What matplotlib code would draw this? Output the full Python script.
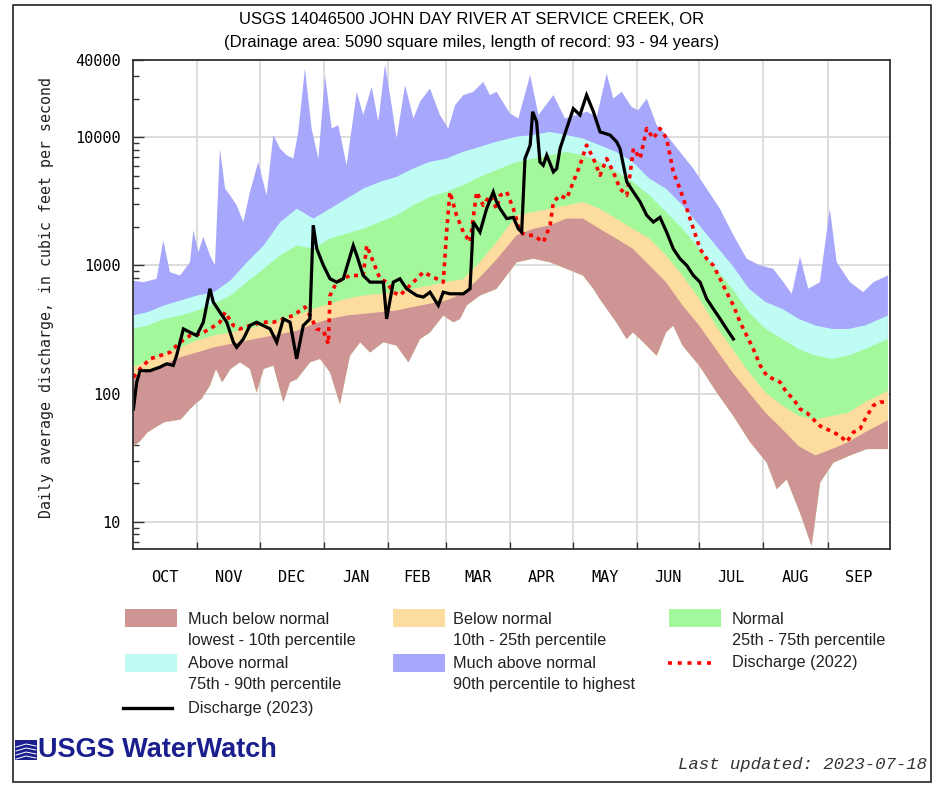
import numpy as np
import matplotlib
matplotlib.use("Agg")
import matplotlib.pyplot as plt
from matplotlib.patches import Rectangle
from matplotlib.lines import Line2D
from matplotlib.ticker import FixedLocator, NullFormatter, FixedFormatter

# ---------------------------------------------------------------- data
month_labels = ["OCT", "NOV", "DEC", "JAN", "FEB", "MAR",
                "APR", "MAY", "JUN", "JUL", "AUG", "SEP"]
month_lengths = [31, 30, 31, 31, 28, 31, 30, 31, 30, 31, 31, 30]

# day of water year (0 = Oct 1) for the percentile boundaries
band_days = [0, 7, 15, 23, 31, 39, 47, 55, 63, 71, 79, 87, 95, 103, 111, 119,
             127, 135, 143, 151, 159, 167, 175, 185, 193, 201, 209, 217, 225,
             233, 241, 249, 257, 265, 273, 281, 289, 297, 305, 313, 321, 329,
             337, 345, 353, 364]
p10 = [130, 152, 171, 193, 210, 230, 244, 260, 275, 291, 310, 350, 383, 407,
       419, 432, 445, 474, 503, 534, 600, 800, 1100,
       1720, 1930, 2060, 2320, 2320, 1930, 1620, 1350, 1000, 741, 488, 340,
       223, 147, 102, 71, 53, 39, 33, 37, 42, 50, 62]
p25 = [161, 181, 204, 230, 260, 284, 301, 320, 340, 371, 407, 459, 503, 550,
       583, 601, 619, 658, 698, 741, 780, 1050, 1500,
       2460, 2610, 2770, 2940, 3130, 2770, 2320, 1930, 1620, 1200, 835, 550,
       340, 223, 147, 102, 81, 67, 63, 67, 71, 86, 105]
p75 = [320, 340, 383, 407, 445, 503, 583, 741, 942, 1200, 1430, 1350, 1620,
       1770, 1930, 2180, 2460, 2940, 3420, 3740, 4220, 4900, 5520,
       6410, 6810, 7230, 7680, 7230, 6410, 5360, 4480, 3520, 2610, 1930, 1350,
       942, 658, 432, 320, 267, 223, 198, 187, 198, 223, 267]
p90 = [407, 432, 488, 534, 583, 619, 764, 1060, 1430, 2180, 2770, 2320, 2770,
       3320, 3970, 4480, 4900, 5690, 6410, 6810, 7680, 8400, 9200,
       10100, 10400, 11000, 10400, 9770, 8670, 7680, 6410, 4750, 3970, 2940,
       2060, 1430, 1000, 658, 518, 459, 383, 340, 320, 320, 340, 407]

# lowest daily value on record
min_days = [0, 3, 7, 15, 23, 27.5, 31, 33, 37, 40, 43, 47, 51.6, 56.4, 59.6,
            63, 67.7, 72.5, 75.7, 79, 85.4, 90.2, 95, 99.8, 104.6, 109.5,
            114.3, 120.7, 127.1, 132.8, 138.4, 143.2, 149.6, 154.5, 157.7,
            160.9, 167.3, 175.3, 185, 193, 201, 209, 217, 222, 225, 233, 238,
            241, 244.5, 252.5, 257, 260.5, 265, 273, 281.5, 289.5, 297.5,
            305.6, 310.4, 315.2, 321.6, 327.2, 331.3, 337.7, 345.7, 353.8, 364]
min_vals = [39, 42, 50, 60, 63, 76, 86, 91, 115, 156, 123, 156, 176, 156, 102,
            156, 166, 86, 123, 130, 176, 187, 147, 83, 198, 252, 210, 252, 237,
            176, 267, 301, 407, 361, 383, 488, 583, 658, 1060, 1130, 1060, 942,
            835, 658, 550, 361, 267, 301, 267, 198, 301, 340, 237, 166, 102,
            67, 42, 29, 18, 21.5, 11.8, 6.5, 20.3, 29, 33, 37, 37]

# highest daily value on record
max_days = [0, 5, 11.4, 14.6, 17.8, 22.7, 27.5, 29.1, 31.5, 33.9, 37.1, 39.5,
            41.9, 44.4, 46.8, 50, 53.2, 56.4, 60.4, 64.4, 67.7, 70.9, 74.1,
            77.3, 79.7, 82.9, 86.1, 89.4, 92.6, 95.8, 99, 103, 107.9, 111,
            115.1, 118.3, 121.5, 124.7, 127.1, 131.2, 135.2, 138.4, 143.2, 148,
            152, 155.3, 159.3, 164.1, 168.9, 172.1, 175.3, 181.8, 185.8, 191.5,
            195.5, 202.7, 208.3, 214, 218.8, 223.6, 228.4, 231.6, 235.6, 240.4,
            243.6, 247.7, 252.5, 257.3, 263.7, 270.2, 276.6, 283, 289.5, 295.9,
            302.3, 308.7, 313.6, 317.6, 321.6, 325.6, 331.2, 336, 339.3, 345.7,
            352.1, 357, 364]
max_vals = [760, 740, 787, 1570, 887, 835, 1060, 1880, 1270, 1670, 1200, 1000,
            8160, 3970, 3520, 2940, 2180, 3740, 6410, 3520, 10400, 8160, 7230,
            6810, 11000, 34400, 11700, 6810, 30500, 11700, 12400, 6040, 22600,
            14900, 24700, 13200, 36800, 17800, 9770, 25500, 14000, 18900, 24000,
            14900, 11700, 17800, 21300, 22600, 27000, 21300, 22600, 15300, 14000,
            30500, 14900, 21300, 14000, 14900, 15800, 14400, 31400, 20000, 22600,
            17200, 16200, 20000, 12400, 10400, 7680, 5690, 3970, 2770, 1720,
            1130, 1000, 942, 741, 601, 1170, 658, 741, 2770, 1060, 741, 619,
            741, 835]

# water year 2023 daily discharge (through Jul 17)
q2023_days = [0.2, 1.8, 3.4, 8.2, 13, 16.2, 19.4, 21, 24.3, 27.5, 30.7, 33.9,
              37.1, 38.7, 41.9, 45.2, 48.4, 50, 53.2, 56.4, 59.6, 62.8, 66.1,
              69.3, 72.5, 75.7, 78.9, 82.1, 85.3, 86.9, 88.6, 91.8, 95, 98.2,
              101.4, 106.2, 107.9, 111, 114.3, 120.7, 122.3, 125.5, 128.7,
              131.9, 136.8, 140, 143.2, 147.2, 149.6, 152.8, 159.3, 162.5,
              164.1, 167.3, 170.5, 173.7, 175.3, 177, 180.2, 183.4, 185.8,
              187.4, 189, 191.5, 192.7, 194.6, 196.2, 197.8, 199.5, 202.7,
              204.3, 205.9, 209.1, 212.3, 215.5, 218.7, 222, 225.2, 230, 233.2,
              234.8, 238.1, 241.3, 244.5, 247.7, 250.9, 254.1, 257.3, 260.5,
              263.7, 267, 270.2, 273.4, 276.6, 279.8, 283.1, 286.2, 289.5]
q2023_vals = [76, 123, 151, 151, 161, 171, 166, 198, 320, 301, 284, 361, 658,
              518, 432, 361, 252, 230, 267, 340, 361, 340, 320, 252, 383, 361,
              187, 340, 383, 2060, 1350, 1000, 787, 741, 787, 1430, 1200, 835,
              741, 741, 383, 741, 787, 658, 583, 567, 619, 488, 619, 601, 601,
              658, 2180, 1820, 2770, 3740, 3130, 2770, 2320, 2370, 1930, 1820,
              6810, 8670, 15800, 13200, 6410, 6040, 7230, 5360, 5690, 8160,
              11700, 16700, 14900, 21300, 15800, 11000, 10400, 9200, 8160, 4480,
              3740, 3130, 2460, 2180, 2370, 1820, 1350, 1130, 1000, 835, 741,
              550, 459, 383, 320, 267]

# water year 2022 daily discharge
q2022_days = [0.2, 3.4, 8.2, 13, 17.8, 22.7, 27.5, 32.3, 37.1, 41.9, 44.4,
              48.4, 51.6, 56.4, 62.8, 67.7, 72.5, 77.3, 82.9, 85.3, 88.6, 91.8,
              94.2, 95, 98.2, 101.4, 104.6, 111, 112.7, 115.9, 119.1, 122.3,
              125.5, 128.7, 131.9, 136.8, 140, 143.2, 146.4, 149.6, 151.2,
              152.8, 156, 159.3, 162.5, 165.7, 168.9, 172.1, 175.3, 177, 180.2,
              183.4, 186.6, 189.8, 193, 197.9, 201.1, 202.7, 205.9, 209.1,
              212.3, 215.5, 218.7, 222, 225.2, 228.4, 231.6, 234.8, 238.1,
              239.6, 241.3, 244.5, 247.7, 250.9, 254.1, 257.3, 260.5, 263.7,
              267, 270.2, 273.4, 276.6, 279.8, 283.1, 286.2, 289.5, 292.7,
              295.9, 299.1, 302.4, 305.6, 308.8, 312, 315.2, 318.4, 321.6,
              324.9, 328.1, 331.3, 334.5, 337.7, 340.9, 344.1, 347.3, 350.5,
              353.8, 357, 360.2, 364]
q2022_vals = [134, 156, 187, 198, 210, 252, 284, 292, 320, 361, 432, 340, 320,
              340, 361, 361, 383, 407, 474, 407, 320, 310, 244, 583, 741, 787,
              835, 835, 1430, 1060, 787, 741, 619, 583, 658, 787, 887, 835, 787,
              741, 1820, 3740, 2460, 1820, 1520, 3740, 2940, 3520, 2770, 3520,
              3740, 2770, 1820, 1720, 1720, 1520, 2060, 3130, 3520, 3320, 4480,
              6040, 8670, 6810, 5050, 6810, 5360, 3970, 3520, 5050, 8160, 6810,
              11700, 9770, 11700, 9770, 5360, 3970, 2770, 1930, 1350, 1130,
              1000, 787, 619, 488, 361, 284, 223, 166, 138, 130, 123, 102, 91,
              76, 71, 63, 56, 53, 50, 47, 42, 50, 53, 67, 81, 86, 86]

# ---------------------------------------------------------------- styling
C_MUCH_BELOW = "#cf9494"
C_BELOW = "#fcdc9f"
C_NORMAL = "#a4f89c"
C_ABOVE = "#befcf4"
C_MUCH_ABOVE = "#a7a7fb"
C_2022 = "#ff0000"
C_2023 = "#000000"

W, H = 943, 786
fig = plt.figure(figsize=(W / 100, H / 100), dpi=100)


def fx(px):
    return px / W


def fy(py):
    return 1 - py / H


ax = fig.add_axes([fx(133), fy(549), fx(890) - fx(133), fy(60) - fy(549)])
ax.set_yscale("log")
ax.set_xlim(0, 365)
ax.set_ylim(6.15, 40000)


def band(upper_days, upper_vals, color):
    xs = np.concatenate([np.asarray(upper_days, float), np.asarray(min_days, float)[::-1]])
    ys = np.concatenate([np.asarray(upper_vals, float), np.asarray(min_vals, float)[::-1]])
    ax.fill(xs, ys, color=color, lw=0, zorder=2)


# stacked fills, each drawn down to the record low
band(max_days, max_vals, C_MUCH_ABOVE)
band(band_days, p90, C_ABOVE)
band(band_days, p75, C_NORMAL)
band(band_days, p25, C_BELOW)
band(band_days, p10, C_MUCH_BELOW)

ax.plot(q2022_days, q2022_vals, color=C_2022, lw=2.6,
        linestyle=(0, (1.1, 1.3)), zorder=4, solid_capstyle="butt")
ax.plot(q2023_days, q2023_vals, color=C_2023, lw=2.3, zorder=5,
        solid_joinstyle="miter")

# month grid and labels
bounds = np.cumsum([0] + month_lengths)
mids = (bounds[:-1] + bounds[1:]) / 2
ax.xaxis.set_major_locator(FixedLocator(bounds[1:-1]))
ax.xaxis.set_major_formatter(NullFormatter())
ax.xaxis.set_minor_locator(FixedLocator(mids))
ax.xaxis.set_minor_formatter(FixedFormatter(month_labels))
ax.tick_params(axis="x", which="major", direction="in", length=5,
               width=1.0, color="#333333")
ax.tick_params(axis="x", which="minor", length=0, pad=15,
               labelsize=11, labelfontfamily="DejaVu Sans Mono")

# discharge axis
ax.yaxis.set_major_locator(FixedLocator([10, 100, 1000, 10000, 40000]))
ax.yaxis.set_major_formatter(FixedFormatter(["10", "100", "1000", "10000", "40000"]))
minor = [m * 10 ** k for k in range(0, 4) for m in range(2, 10)] + [20000, 30000]
ax.yaxis.set_minor_locator(FixedLocator(minor))
ax.yaxis.set_minor_formatter(NullFormatter())
ax.tick_params(axis="y", which="major", direction="in", length=8, width=1.0,
               color="#333333", pad=9, labelsize=11,
               labelfontfamily="DejaVu Sans Mono")
ax.tick_params(axis="y", which="minor", direction="in", length=4, width=1.0,
               color="#333333")

ax.grid(True, which="major", color="#dadada", lw=1.3, zorder=1)
ax.set_axisbelow(True)
for s in ax.spines.values():
    s.set_color("#333333")
    s.set_linewidth(1.3)
    s.set_zorder(6)

fig.text(fx(47), fy(297), "Daily average discharge, in cubic feet per second",
         rotation=90, ha="center", va="center", fontsize=10.7,
         family="DejaVu Sans Mono", color="#222222")

# title
fig.text(0.5, fy(20), "USGS 14046500 JOHN DAY RIVER AT SERVICE CREEK, OR",
         ha="center", va="center", fontsize=12, family="Liberation Sans")
fig.text(0.5, fy(42),
         "(Drainage area: 5090 square miles, length of record: 93 - 94 years)",
         ha="center", va="center", fontsize=12, family="Liberation Sans")

# legend
LEG_FONT = dict(fontsize=11.7, family="Liberation Sans", color="#222222",
                va="center", ha="left")
patch_x = [125, 393, 669]
text_x = [188, 453, 732]
rows = [(609, 627, 620, 640), (654, 672, 663, 685)]
entries = [
    (0, 0, C_MUCH_BELOW, "Much below normal", "lowest - 10th percentile"),
    (1, 0, C_BELOW, "Below normal", "10th - 25th percentile"),
    (2, 0, C_NORMAL, "Normal", "25th - 75th percentile"),
    (0, 1, C_ABOVE, "Above normal", "75th - 90th percentile"),
    (1, 1, C_MUCH_ABOVE, "Much above normal", "90th percentile to highest"),
]
for col, row, color, l1, l2 in entries:
    y0, y1, t1, t2 = rows[row]
    x0 = patch_x[col]
    fig.patches.append(Rectangle((fx(x0), fy(y1)), fx(x0 + 52) - fx(x0),
                                 fy(y0) - fy(y1), transform=fig.transFigure,
                                 facecolor=color, edgecolor="none"))
    fig.text(fx(text_x[col]), fy(t1), l1, **LEG_FONT)
    fig.text(fx(text_x[col]), fy(t2), l2, **LEG_FONT)

fig.lines.append(Line2D([fx(668), fx(716)], [fy(663), fy(663)],
                        transform=fig.transFigure, color=C_2022, lw=2.6,
                        linestyle=(0, (1.1, 1.6))))
fig.text(fx(732), fy(663), "Discharge (2022)", **LEG_FONT)
fig.lines.append(Line2D([fx(123), fx(172)], [fy(708), fy(708)],
                        transform=fig.transFigure, color=C_2023, lw=2.4))
fig.text(fx(188), fy(708), "Discharge (2023)", **LEG_FONT)

# footer
NAVY = "#1b1f8e"
fig.patches.append(Rectangle((fx(15), fy(760)), fx(37) - fx(15), fy(740) - fy(760),
                             transform=fig.transFigure, facecolor=NAVY,
                             edgecolor="none"))
for yy in (745, 749, 753, 757):
    fig.lines.append(Line2D([fx(16), fx(26), fx(36)],
                            [fy(yy + 2), fy(yy - 1), fy(yy + 1)],
                            transform=fig.transFigure, color="white", lw=0.7))
fig.text(fx(38), fy(750), "USGS WaterWatch", ha="left", va="center",
         fontsize=19.5, fontweight="bold", family="Liberation Sans", color=NAVY)
fig.text(fx(927), fy(764), "Last updated: 2023-07-18", ha="right", va="center",
         fontsize=12.5, family="Liberation Mono", style="italic",
         color="#333333")

# outer frame
fig.patches.append(Rectangle((fx(13), fy(782)), fx(931) - fx(13),
                             fy(5) - fy(782), transform=fig.transFigure,
                             fill=False, edgecolor="#222222", lw=1.2))

fig.savefig("out.png", dpi=100)
